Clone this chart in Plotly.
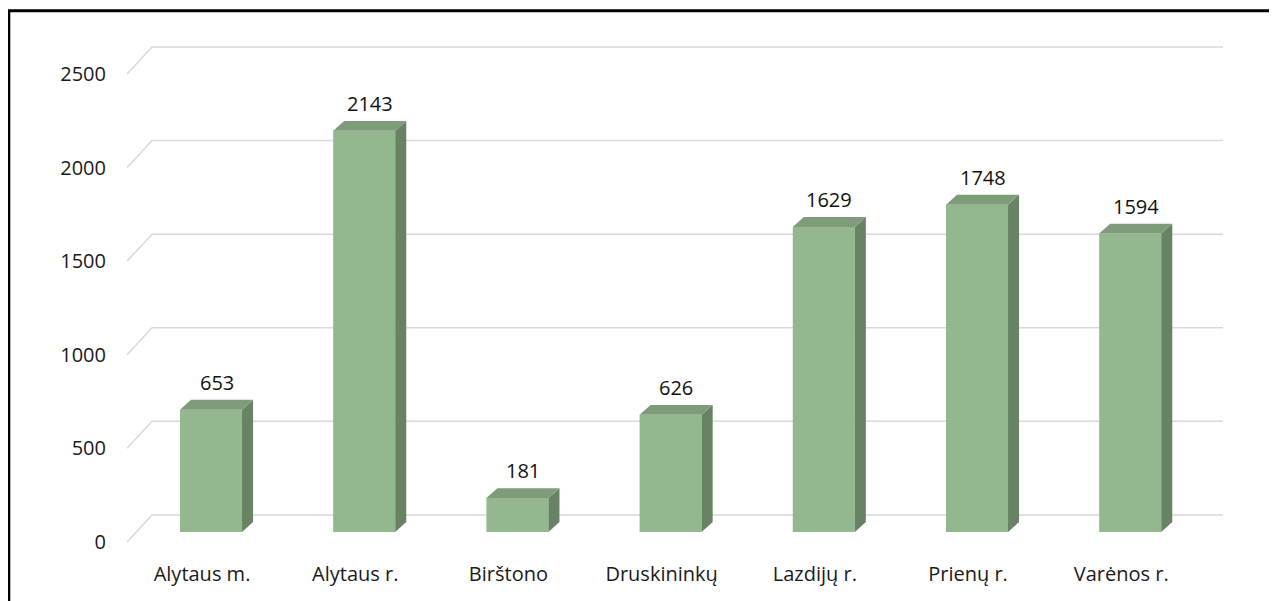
import plotly.graph_objects as go

categories = ["Alytaus m.", "Alytaus r.", "Birštono", "Druskininkų", "Lazdijų r.", "Prienų r.", "Varėnos r."]
values = [653, 2143, 181, 626, 1629, 1748, 1594]
y_ticks = [0, 500, 1000, 1500, 2000, 2500]

# fake 3D geometry, in axis units
BAR_W = 0.405
DX = 0.072        # bar depth, x
DY = 53           # bar depth, y
BACK_Y = 91       # back wall offset from bar plane
FRONT_Y = -53     # front edge offset from bar plane
WALL_FRONT_X = -0.548
WALL_BACK_X = -0.385
WALL_END_X = 6.606

FRONT = "#93b88f"
TOP = "#7e9b7a"
SIDE = "#678364"
FONT = "Open Sans"

xs = list(range(len(categories)))

fig = go.Figure()

# front faces
fig.add_trace(go.Bar(x=xs, y=values, width=BAR_W, base=0,
                     marker=dict(color=FRONT, line_width=0), hoverinfo="skip"))

# side and top faces
for i, v in zip(xs, values):
    xl, xr = i - BAR_W / 2, i + BAR_W / 2
    fig.add_trace(go.Scatter(x=[xr, xr + DX, xr + DX, xr, xr], y=[0, DY, v + DY, v, 0],
                             fill="toself", fillcolor=SIDE, mode="lines", line=dict(width=0),
                             hoverinfo="skip"))
    fig.add_trace(go.Scatter(x=[xl, xr, xr + DX, xl + DX, xl], y=[v, v, v + DY, v + DY, v],
                             fill="toself", fillcolor=TOP, mode="lines", line=dict(width=0),
                             hoverinfo="skip"))
    fig.add_annotation(x=i + DX / 2, y=v + DY, text=str(v), showarrow=False,
                       yanchor="bottom", yshift=2, font=dict(family=FONT, size=20, color="#111111"))

# gridlines on the back wall with a diagonal to the front
for t in y_ticks:
    fig.add_shape(type="path", xref="x", yref="y", layer="below",
                  path=f"M {WALL_FRONT_X},{t + FRONT_Y} L {WALL_BACK_X},{t + BACK_Y} L {WALL_END_X},{t + BACK_Y}",
                  line=dict(color="#d9d9d9", width=1.5))

# outer frame (left and top edges show)
fig.add_shape(type="rect", xref="paper", yref="paper",
              x0=(0.8 - 99) / 1143, x1=1.5, y0=-0.5, y1=(552 - 2.8) / 530,
              line=dict(color="black", width=3))

# page body has an 8px margin, so figure is 8px smaller than the window
fig.update_layout(
    width=1269, height=593,
    margin=dict(l=99, r=27, t=22, b=41),
    plot_bgcolor="white", paper_bgcolor="white",
    showlegend=False,
    font=dict(family=FONT, size=20, color="#1a1a1a"),
)
fig.update_xaxes(range=[-0.679, 6.782], tickvals=xs, ticktext=categories, ticklabelshift=-9,
                 showgrid=False, zeroline=False, showline=False, ticks="")
fig.update_yaxes(range=[-149.6, 2681.6], tickvals=[t + FRONT_Y for t in y_ticks],
                 ticktext=[str(t) for t in y_ticks],
                 showgrid=False, zeroline=False, showline=False, ticks="")

fig.write_html("out.html")
